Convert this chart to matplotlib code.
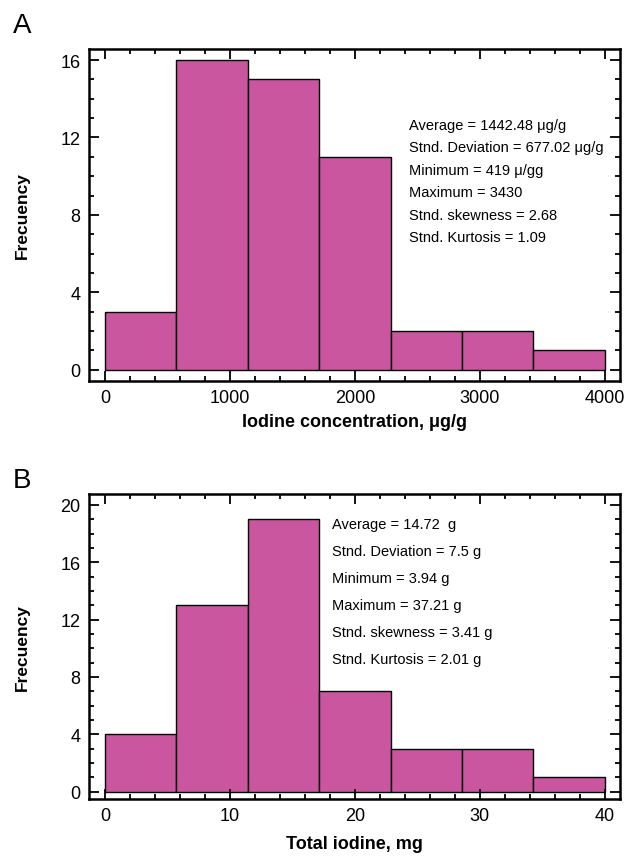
import numpy as np
import matplotlib.pyplot as plt
from matplotlib.ticker import MultipleLocator

plt.rcParams['font.family'] = ['Liberation Sans', 'DejaVu Sans']

# panel A: iodine concentration histogram
conc_edges = np.linspace(0, 4000, 8)
conc_counts = [3, 16, 15, 11, 2, 2, 1]
conc_stats = ["Average = 1442.48 \u03bcg/g",
              "Stnd. Deviation = 677.02 \u03bcg/g",
              "Minimum = 419 \u03bc/gg",
              "Maximum = 3430",
              "Stnd. skewness = 2.68",
              "Stnd. Kurtosis = 1.09"]

# panel B: total iodine histogram
total_edges = np.linspace(0, 40, 8)
total_counts = [4, 13, 19, 7, 3, 3, 1]
total_stats = ["Average = 14.72  g",
               "Stnd. Deviation = 7.5 g",
               "Minimum = 3.94 g",
               "Maximum = 37.21 g",
               "Stnd. skewness = 3.41 g",
               "Stnd. Kurtosis = 2.01 g"]

bar_color = "#C9569F"

fig = plt.figure(figsize=(6.3, 8.62), dpi=100)
axA = fig.add_axes([0.141, 0.557, 0.843, 0.385])
axB = fig.add_axes([0.141, 0.072, 0.843, 0.354])


def draw(ax, edges, counts, stats, xlim, ylim, xmaj, xmin, ymaj, xlabel,
         tx, ty, dy, xlab_y):
    ax.bar(edges[:-1], counts, width=np.diff(edges), align='edge',
           color=bar_color, edgecolor='black', linewidth=1.0)
    ax.set_xlim(*xlim)
    ax.set_ylim(*ylim)
    ax.xaxis.set_major_locator(MultipleLocator(xmaj))
    ax.xaxis.set_minor_locator(MultipleLocator(xmin))
    ax.yaxis.set_major_locator(MultipleLocator(ymaj))
    ax.yaxis.set_minor_locator(MultipleLocator(1))
    ax.tick_params(which='both', direction='in', top=True, right=True,
                   width=1.3)
    ax.tick_params(which='major', length=7, labelsize=13, pad=6)
    ax.tick_params(which='minor', length=3.5)
    for s in ax.spines.values():
        s.set_linewidth(1.8)
    ax.set_xlabel(xlabel, fontsize=13, fontweight='bold', va='center')
    ax.xaxis.set_label_coords(0.5, xlab_y)
    ax.set_ylabel("Frecuency", fontsize=12.5, fontweight='bold', va='center')
    ax.yaxis.set_label_coords(-0.126, 0.5)
    for i, line in enumerate(stats):
        ax.text(tx, ty - i * dy, line, transform=ax.transAxes,
                fontsize=10.5, va='center', ha='left')


draw(axA, conc_edges, conc_counts, conc_stats, (-128, 4120), (-0.57, 16.57),
     1000, 200, 4, "Iodine concentration, \u03bcg/g", 0.603, 0.771, 0.0675,
     -0.1235)
draw(axB, total_edges, total_counts, total_stats, (-1.28, 41.2), (-0.5, 20.77),
     10, 2, 4, "Total iodine, mg", 0.458, 0.902, 0.0885, -0.1475)

fig.text(0.021, 0.970, "A", fontsize=20, va='center')
fig.text(0.021, 0.442, "B", fontsize=20, va='center')

fig.savefig("out.png", dpi=100)
